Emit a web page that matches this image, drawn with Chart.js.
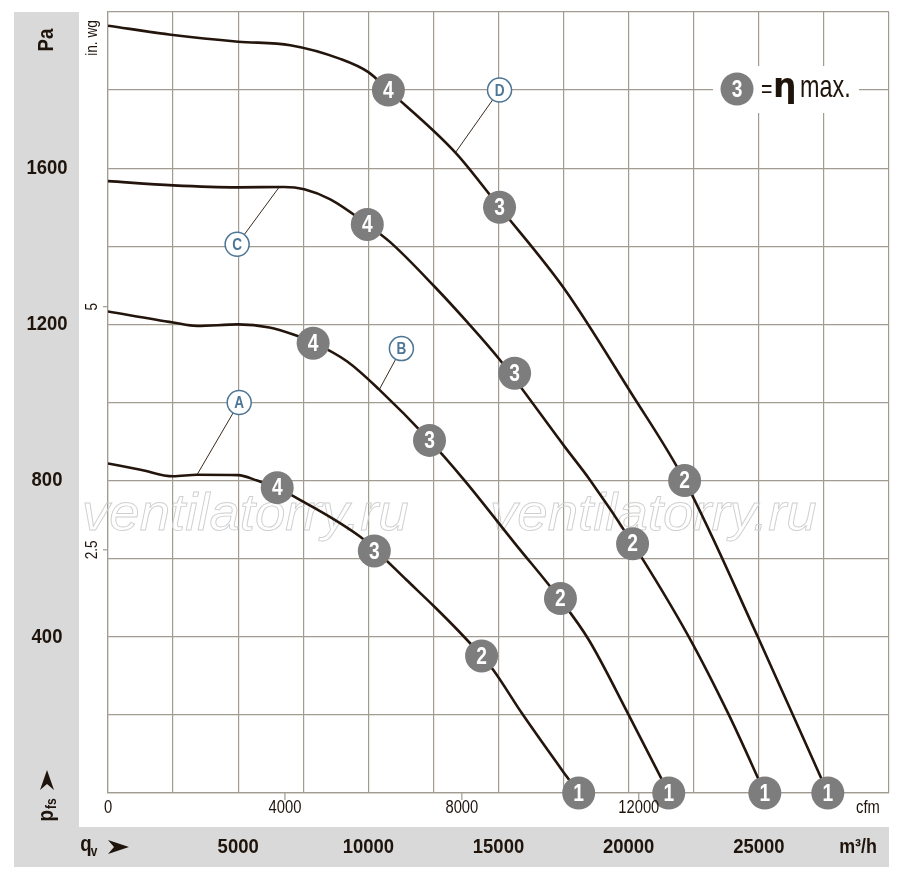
<!DOCTYPE html>
<html>
<head>
<meta charset="utf-8">
<script src="https://cdn.jsdelivr.net/npm/chart.js@4.4.1/dist/chart.umd.min.js"></script>
<style>
  html, body { margin: 0; padding: 0; background: #fff; }
  canvas { display: block; }
</style>
</head>
<body>
<canvas id="grafico" width="900" height="875"></canvas>
<script>
// ticks dos eixos
const paTicks = [400, 800, 1200, 1600];
const m3hTicks = [5000, 10000, 15000, 20000, 25000];
const cfmTicks = [0, 4000, 8000, 12000];
const inwgTicks = [2.5, 5];

// curvas caracteristicas (m3/h, Pa)
const flowA = [0, 1250, 2500, 3420, 5000, 5730, 6500, 7500, 8600, 9690, 10230, 11460, 12540, 13420, 14350, 14800, 15900, 17620, 18080];
const pressA = [844, 828, 811, 815, 814, 800, 782, 746, 704, 656, 625, 546, 477, 418, 351, 315, 204, 42, 0];

const flowB = [0, 2500, 3420, 5000, 6200, 7120, 7880, 9190, 10420, 12350, 13700, 15620, 17380, 18460, 20000, 21540];
const pressB = [1233, 1205, 1196, 1200, 1192, 1174, 1154, 1105, 1033, 903, 800, 640, 495, 393, 200, 0];

const flowC = [0, 2500, 5000, 6770, 7540, 8540, 9960, 10850, 12540, 13810, 15040, 17540, 18500, 20150, 22310, 23850, 25230];
const pressC = [1567, 1556, 1551, 1552, 1546, 1520, 1456, 1410, 1297, 1205, 1110, 887, 803, 640, 400, 200, 0];

const flowD = [0, 2500, 5000, 7000, 8920, 10000, 10770, 13346, 15040, 17540, 20040, 22150, 24960, 27650];
const pressD = [1965, 1941, 1924, 1915, 1880, 1846, 1800, 1640, 1500, 1290, 1030, 800, 400, 0];

// pontos de operacao 4-3-2-1
const opNums = ['4', '3', '2', '1'];
const opFlowA = [6500, 10230, 14350, 18080];
const opPressA = [782, 620, 351, 0];
const opFlowB = [7880, 12350, 17380, 21540];
const opPressB = [1152, 903, 498, 0];
const opFlowC = [9960, 15620, 20150, 25230];
const opPressC = [1456, 1075, 638, 0];
const opFlowD = [10770, 15040, 22150, 27650];
const opPressD = [1800, 1500, 800, 0];

// etiquetas A-D e ponto de ligacao na curva
const tagNames = ['A', 'B', 'C', 'D'];
const tagFlow = [5040, 11270, 4960, 15040];
const tagPress = [1000, 1138, 1405, 1800];
const linkFlow = [3420, 10420, 6580, 13346];
const linkPress = [815, 1033, 1552, 1640];

const CFM_M3H = 1.69901;
const INWG_PA = 249.089;

const SANS = '"Liberation Sans", Arimo, Arial, sans-serif';
const INK = '#1f140c';
const GRID = '#a19b91';
const BAND = '#d9d9d9';
const BALL = '#7d7d7d';
const TAG = '#4d7595';

function pontos(xs, ys) {
    return xs.map((x, i) => ({ x: x, y: ys[i] }));
}

function curva(xs, ys) {
    return {
        data: pontos(xs, ys),
        showLine: true,
        borderColor: '#24150c',
        borderWidth: 2.6,
        pointRadius: 0,
        cubicInterpolationMode: 'monotone',
        order: 3
    };
}

const datasets = [];
datasets.push(curva(flowA, pressA));
datasets.push(curva(flowB, pressB));
datasets.push(curva(flowC, pressC));
datasets.push(curva(flowD, pressD));

// linhas de ligacao das etiquetas
tagNames.forEach((t, i) => {
    datasets.push({
        data: [{ x: tagFlow[i], y: tagPress[i] }, { x: linkFlow[i], y: linkPress[i] }],
        showLine: true,
        borderColor: '#3a2a1c',
        borderWidth: 1,
        pointRadius: 0,
        order: 4
    });
});

// bolas cinzentas
const opDados = [].concat(
    pontos(opFlowA, opPressA), pontos(opFlowB, opPressB),
    pontos(opFlowC, opPressC), pontos(opFlowD, opPressD)
);
const opTexto = [].concat(opNums, opNums, opNums, opNums);
datasets.push({
    data: opDados,
    pointRadius: 16.5,
    pointBackgroundColor: BALL,
    pointBorderWidth: 0,
    clip: false,
    order: 1
});
const idxOp = datasets.length - 1;

// circulos das etiquetas
datasets.push({
    data: pontos(tagFlow, tagPress),
    pointRadius: 12,
    pointBackgroundColor: '#ffffff',
    pointBorderColor: TAG,
    pointBorderWidth: 1.5,
    clip: false,
    order: 1
});
const idxTag = datasets.length - 1;

// texto com compressao horizontal (imita fonte condensada)
function texto(c, s, x, y, font, opts) {
    const o = opts || {};
    c.save();
    c.translate(x, y);
    if (o.rot) c.rotate(o.rot);
    c.scale(o.sx || 1, 1);
    c.font = font;
    c.fillStyle = o.color || INK;
    c.textAlign = o.align || 'center';
    c.textBaseline = o.base || 'middle';
    c.fillText(s, 0, 0);
    c.restore();
}

const decor = {
    id: 'decor',
    beforeDraw(chart) {
        const c = chart.ctx;
        const a = chart.chartArea;
        c.save();
        c.fillStyle = '#ffffff';
        c.fillRect(0, 0, chart.width, chart.height);
        c.fillStyle = BAND;
        c.fillRect(14, a.top, 65, a.bottom + 74 - a.top);
        c.fillRect(14, a.bottom + 34, a.right - 14, 40);
        c.restore();
    },
    beforeDatasetsDraw(chart) {
        const c = chart.ctx;
        c.save();
        // marca de agua
        c.strokeStyle = '#cfcfcf';
        c.lineWidth = 0.9;
        [82, 490].forEach(px => {
            c.save();
            c.translate(px, 530);
            c.scale(1.05, 1);
            c.font = 'italic 52px ' + SANS;
            c.textAlign = 'left';
            c.textBaseline = 'alphabetic';
            c.strokeText('ventilatorry.ru', 0, 0);
            c.restore();
        });
        // caixa da legenda
        c.fillStyle = '#ffffff';
        c.fillRect(713, 66, 146, 47);
        c.restore();
    },
    afterDatasetsDraw(chart) {
        const c = chart.ctx;
        chart.getDatasetMeta(idxOp).data.forEach((p, i) => {
            texto(c, opTexto[i], p.x, p.y + 1, 'bold 24px ' + SANS, { color: '#ffffff', sx: 0.8 });
        });
        chart.getDatasetMeta(idxTag).data.forEach((p, i) => {
            texto(c, tagNames[i], p.x, p.y + 1, 'bold 17px ' + SANS, { color: TAG, sx: 0.8 });
        });
    },
    afterDraw(chart) {
        const c = chart.ctx;
        const a = chart.chartArea;
        const xs = chart.scales.x;
        const ys = chart.scales.y;
        const up = -Math.PI / 2;
        c.save();

        // eixo esquerdo Pa
        texto(c, 'Pa', 47, 40, 'bold 22px ' + SANS, { rot: up, sx: 0.85 });
        paTicks.forEach(v => texto(c, String(v), 47, ys.getPixelForValue(v), 'bold 21px ' + SANS, { sx: 0.88 }));

        // p_fs com seta
        texto(c, 'p', 47, 810, 'bold 22px ' + SANS, { rot: up, sx: 0.85, align: 'right' });
        texto(c, 'fs', 52, 809, 'bold 14px ' + SANS, { rot: up, sx: 0.85, align: 'left' });
        c.fillStyle = INK;
        c.beginPath();
        c.moveTo(47, 770);
        c.lineTo(54, 790);
        c.lineTo(47, 784);
        c.lineTo(40, 790);
        c.closePath();
        c.fill();

        // in. wg
        texto(c, 'in. wg', 93, 38, '16px ' + SANS, { rot: up, sx: 0.85 });
        c.strokeStyle = GRID;
        c.lineWidth = 1.2;
        inwgTicks.forEach(v => {
            const y = ys.getPixelForValue(v * INWG_PA);
            c.beginPath();
            c.moveTo(a.left - 5, y);
            c.lineTo(a.left, y);
            c.stroke();
            texto(c, String(v), 93, y, '16px ' + SANS, { rot: up, sx: 0.85 });
        });

        // cfm
        cfmTicks.forEach(v => {
            const x = xs.getPixelForValue(v * CFM_M3H);
            if (v > 0) {
                c.beginPath();
                c.moveTo(x, a.bottom);
                c.lineTo(x, a.bottom + 7);
                c.stroke();
            }
            texto(c, String(v), x, a.bottom + 15, '18px ' + SANS, { sx: 0.82 });
        });
        texto(c, 'cfm', 868, a.bottom + 15, '18px ' + SANS, { sx: 0.82 });

        // faixa inferior m3/h
        const yb = a.bottom + 54;
        m3hTicks.forEach(v => texto(c, String(v), xs.getPixelForValue(v), yb, 'bold 21px ' + SANS, { sx: 0.88 }));
        texto(c, 'm³/h', 858, yb, 'bold 21px ' + SANS, { sx: 0.85 });
        texto(c, 'q', 86, yb - 2, 'bold 22px ' + SANS, { sx: 0.85 });
        texto(c, 'v', 94, yb + 5, 'bold 14px ' + SANS, { sx: 0.85 });
        c.fillStyle = INK;
        c.beginPath();
        c.moveTo(129, yb);
        c.lineTo(108, yb - 7);
        c.lineTo(114, yb);
        c.lineTo(108, yb + 7);
        c.closePath();
        c.fill();

        // legenda eta max
        c.fillStyle = BALL;
        c.beginPath();
        c.arc(737, 89, 16.5, 0, Math.PI * 2);
        c.fill();
        texto(c, '3', 737, 90, 'bold 24px ' + SANS, { color: '#ffffff', sx: 0.8 });
        texto(c, '=', 761, 97, '26px ' + SANS, { align: 'left', base: 'alphabetic', sx: 0.75 });
        texto(c, 'η', 773, 97, 'bold 33px "DejaVu Sans", sans-serif', { align: 'left', base: 'alphabetic', sx: 1 });
        texto(c, 'max.', 800, 97, '32px ' + SANS, { align: 'left', base: 'alphabetic', sx: 0.73 });

        c.restore();
    }
};

const ctx = document.getElementById('grafico').getContext('2d');
const grafico = new Chart(ctx, {
    type: 'scatter',
    data: { datasets: datasets },
    options: {
        responsive: false,
        animation: false,
        layout: { autoPadding: false, padding: { left: 108, right: 11, top: 12, bottom: 82 } },
        plugins: {
            legend: { display: false },
            tooltip: { enabled: false }
        },
        scales: {
            x: {
                type: 'linear',
                min: 0,
                max: 30000,
                ticks: { stepSize: 2500, display: false },
                grid: { color: GRID, lineWidth: 1.2, drawTicks: false },
                border: { color: GRID, width: 1.2 }
            },
            y: {
                type: 'linear',
                min: 0,
                max: 2000,
                ticks: { stepSize: 200, display: false },
                grid: { color: GRID, lineWidth: 1.2, drawTicks: false },
                border: { color: GRID, width: 1.2 }
            }
        }
    },
    plugins: [decor]
});
</script>
</body>
</html>
